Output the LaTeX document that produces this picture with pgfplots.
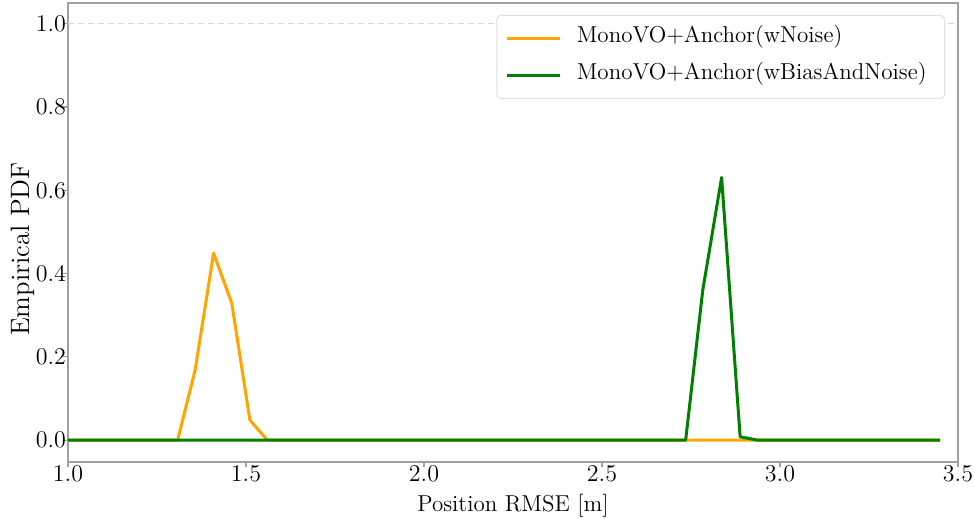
\documentclass[border=0pt]{standalone}
\usepackage{pgfplots}
\pgfplotsset{compat=1.18}
\definecolor{mplorange}{HTML}{FFA500}
\definecolor{mplgreen}{HTML}{008000}
\definecolor{spine}{HTML}{A0A0A0}
\begin{document}
\fontsize{11.5}{14}\selectfont
\begin{tikzpicture}
\begin{axis}[
  scale only axis,
  width=445pt, height=229.5pt,
  xmin=1.0, xmax=3.5, ymin=-0.0525, ymax=1.05,
  xtick={1.0,1.5,2.0,2.5,3.0,3.5},
  ytick={0.0,0.2,0.4,0.6,0.8,1.0},
  xticklabel style={yshift=4.5pt,/pgf/number format/.cd,fixed,fixed zerofill,precision=1},
  yticklabel style={xshift=5.5pt,/pgf/number format/.cd,fixed,fixed zerofill,precision=1},
  axis line style={spine, line width=0.6pt},
  tick style={spine, line width=0.6pt},
  tick align=outside,
  major tick length=2.5pt,
  xtick pos=bottom, ytick pos=left,
  xlabel={Position RMSE [m]},
  ylabel={Empirical PDF},
  every axis x label/.style={at={(rel axis cs:0.5,-0.0958)}, anchor=center, font=\fontsize{11.5}{14}\selectfont},
  every axis y label/.style={at={(rel axis cs:-0.0511,0.464)}, rotate=90, anchor=center, font=\fontsize{13.3}{16}\selectfont},
  every tick label/.append style={font=\fontsize{11.7}{14}\selectfont},
  legend style={at={(0.9854,0.9739)}, anchor=north east,
    draw=black!12, rounded corners=2pt, line width=0.5pt,
    font=\fontsize{11.5}{14}\selectfont,
    inner xsep=4.5pt, inner ysep=4.5pt,
    nodes={inner sep=0pt, text height=9pt, text depth=5pt},
    column sep=7.5pt,
    row sep=4.5pt},
  legend cell align=left,
  legend image code/.code={\draw[#1] (0pt,0pt) -- (26.5pt,0pt);},
]
\addplot[forget plot, densely dashed, black!15, line width=0.5pt] coordinates {(1.0,1.0) (3.5,1.0)};
\addplot[mplorange, line width=1.5pt, line join=round] coordinates {
(1.0,0) (1.308,0) (1.357,0.168) (1.409,0.449) (1.460,0.329) (1.511,0.048) (1.560,0) (3.45,0)};
\addlegendentry{MonoVO+Anchor(wNoise)\hspace*{4.5pt}}
\addplot[mplgreen, line width=1.5pt, line join=round] coordinates {
(1.0,0) (2.735,0) (2.783,0.36) (2.836,0.631) (2.888,0.008) (2.937,0) (3.45,0)};
\addlegendentry{MonoVO+Anchor(wBiasAndNoise)\hspace*{4.5pt}}
\end{axis}
\pgfresetboundingbox
\useasboundingbox ([xshift=-34pt,yshift=-28.5pt]current axis.south west) rectangle ([xshift=8.5pt,yshift=1.5pt]current axis.north east);
\end{tikzpicture}
\end{document}
